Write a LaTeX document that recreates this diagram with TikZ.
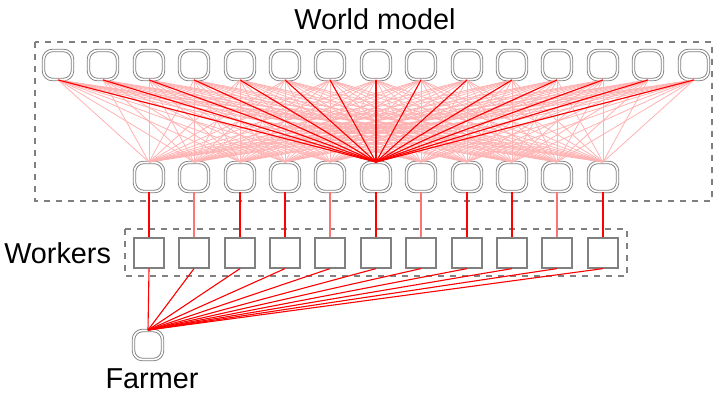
\documentclass[tikz,border=0pt]{standalone}
\usepackage{fontspec}
\setmainfont{Liberation Sans}
\begin{document}
\begin{tikzpicture}[
    x=0.5pt, y=-0.5pt,
    font=\fontsize{14.4}{17}\selectfont,
    unit/.style={draw=gray, double=white, double distance=0.8pt, line width=0.45pt,
        rounded corners=4.5pt, minimum size=14.5pt, inner sep=0pt},
    worker/.style={draw=gray, line width=0.6pt, minimum size=15pt, inner sep=0pt},
    group/.style={draw=gray, dashed, line width=0.6pt},
    weak/.style={draw=red!30, line width=0.4pt},
    strong/.style={draw=red, line width=0.55pt},
    pale/.style={draw=red!55, line width=0.8pt}
]
    \useasboundingbox (0,0) rectangle (715,392);

    % World model
    \draw[group] (35,42) rectangle (712,201);
    \node at (375,19) {World model};
    \foreach \i in {0,...,14}
        \node[unit] (t\i) at ({round(58+45.4*\i)},65) {};
    \foreach \j in {2,...,12}
        \node[unit] (m\j) at ({round(58+45.4*\j)},177) {};

    % full connections
    \foreach \j in {2,...,12}
        \foreach \i in {0,...,14}
            \draw[weak] (t\i.south) -- (m\j.north);
    \foreach \i in {0,...,14}
        \draw[strong] (t\i.south) -- (m7.north);

    % Workers
    \draw[group] (125,229) rectangle (627,276);
    \node[anchor=east] at (118,253) {Workers};
    \foreach \j/\s in {2/strong,3/pale,4/strong,5/strong,6/pale,7/strong,8/pale,9/strong,10/strong,11/pale,12/strong} {
        \node[worker] (w\j) at ({round(58+45.4*\j)},253) {};
        \draw[\s, line width=0.8pt] (m\j.south) -- (w\j.north);
    }

    % Farmer
    \node[unit] (f) at (148,345) {};
    \node[anchor=base] at (152,388) {Farmer};
    \foreach \j in {2,...,12}
        \draw[strong] (w\j.south) -- (f.north);
\end{tikzpicture}
\end{document}
